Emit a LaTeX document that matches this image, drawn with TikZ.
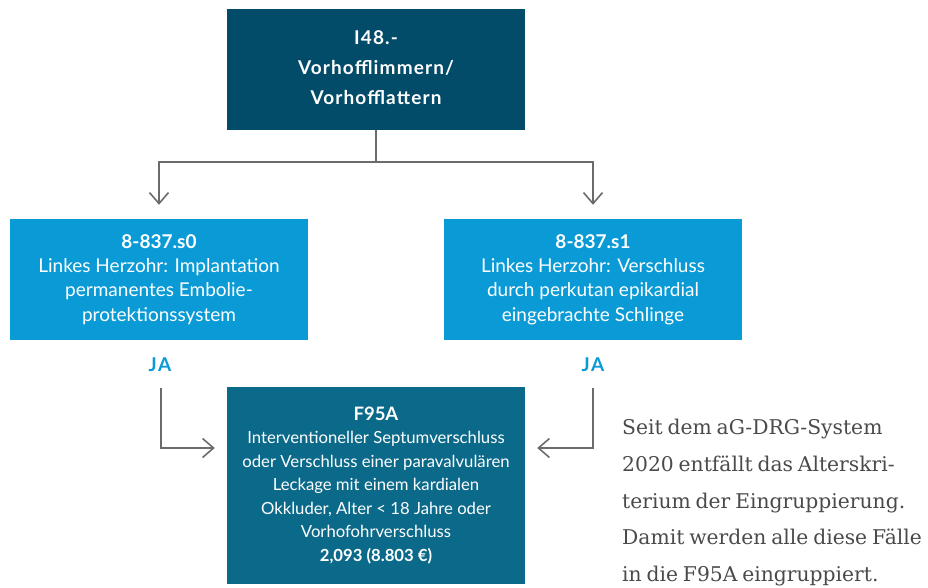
\documentclass[tikz,border=0pt]{standalone}
\usepackage{fontspec}
\setmainfont{Lato}
\newfontfamily\serifnote[WordSpace=0.75]{DejaVu Serif}
\usetikzlibrary{arrows.meta}
\definecolor{topc}{HTML}{024B69}
\definecolor{lightc}{HTML}{0A9BD7}
\definecolor{botc}{HTML}{0B6A8A}
\definecolor{linec}{HTML}{6B6B6B}
\definecolor{notec}{HTML}{4A4A4A}
\tikzset{
  box/.style={fill=#1, text=white, minimum width=298pt, inner sep=0pt, align=center, anchor=center},
  conn/.style={draw=linec, line width=1.6pt},
  arr/.style={conn, -{Straight Barb[length=11pt,width=19pt,line width=1.6pt]}},
  jalabel/.style={text=lightc, font=\fontsize{19}{22}\selectfont\bfseries\addfontfeature{LetterSpace=8}, inner sep=0pt},
}
\begin{document}
\begin{tikzpicture}[x=1pt,y=-1pt]
\useasboundingbox (0,0) rectangle (928,588);
\node[box=topc, minimum height=121pt, font=\fontsize{19}{30}\selectfont\bfseries\addfontfeature{LetterSpace=6}] (top) at (376,69.5)
  {I48.-\\Vorhofflimmern/\\Vorhofflattern\vphantom{g}};
\node[box=lightc, minimum height=121pt, font=\fontsize{19}{24.3}\selectfont] (left) at (159,279.5)
  {\textbf{8-837.s0}\\Linkes Herzohr: Implantation\\permanentes Embolie-\\protektionssystem};
\node[box=lightc, minimum height=121pt, font=\fontsize{19}{24.3}\selectfont] (right) at (593,279.5)
  {\textbf{8-837.s1}\\Linkes Herzohr: Verschluss\\durch perkutan epikardial\\eingebrachte Schlinge};
\node[box=botc, minimum height=197pt, font=\fontsize{16.7}{23.5}\selectfont] (bottom) at (376,485.5)
  {\textbf{\fontsize{18.5}{23.5}\selectfont F95A}\\Interventioneller Septumverschluss\\oder Verschluss einer paravalvulären\\Leckage mit einem kardialen\\Okkluder, Alter < 18 Jahre oder\\Vorhofohrverschluss\\\textbf{2,093 (8.803 €)}};
\node[jalabel] (ja1) at (160,365) {JA};
\node[jalabel] (ja2) at (593,365) {JA};
\node[anchor=north west, inner sep=0pt, align=left, text=notec, font=\serifnote\fontsize{20.3}{36.7}\selectfont] (note) at (622,419)
  {Seit dem aG-DRG-System\\2020 entfällt das Alterskri-\\terium der Eingruppierung.\\Damit werden alle diese Fälle\\in die F95A eingruppiert.};
\coordinate (hub) at (376,162);
\draw[conn] (top.south) -- (hub);
\draw[arr, shorten >=14pt] (hub) -| (left.north);
\draw[arr, shorten >=14pt] (hub) -| (right.north);
\draw[arr, shorten <=16pt, shorten >=12pt] ([xshift=1pt]ja1.south) |- ([yshift=37.5pt]bottom.west);
\draw[arr, shorten <=16pt, shorten >=12pt] (ja2.south) |- ([yshift=37.5pt]bottom.east);
\end{tikzpicture}
\end{document}
